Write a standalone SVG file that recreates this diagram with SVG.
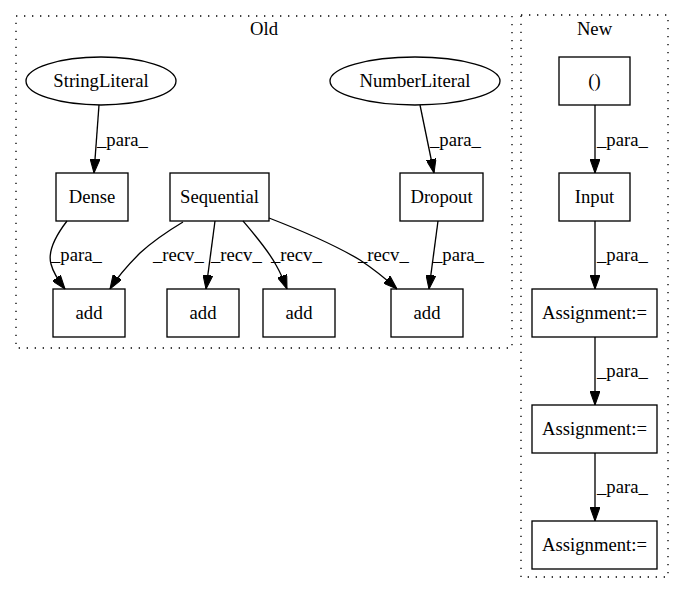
<svg xmlns="http://www.w3.org/2000/svg" width="684" height="596" viewBox="0 0 684 596">
<style>
text{font-family:"Liberation Serif","Times New Roman",serif;font-size:18.67px;fill:#000}
.c{text-anchor:middle}
.cl{fill:none;stroke:#000;stroke-width:1.33;stroke-dasharray:1.33,6.67}
.n{fill:none;stroke:#000;stroke-width:1.33}
.e{fill:none;stroke:#000;stroke-width:1.33;marker-end:url(#ah)}
</style>
<defs>
<marker id="ah" markerUnits="userSpaceOnUse" markerWidth="14" markerHeight="10" viewBox="0 0 13.3 9.4" refX="13.3" refY="4.7" orient="auto">
<path d="M0,0 L13.3,4.7 L0,9.4 z" fill="#000" stroke="#000" stroke-width="1"/>
</marker>
</defs>
<rect width="684" height="596" fill="#fff"/>
<g id="cluster_old">
<rect class="cl" x="16" y="16" width="496" height="332"/>
<text class="c" x="264" y="35">Old</text>
</g>
<g id="cluster_new">
<rect class="cl" x="521" y="15" width="147" height="562"/>
<text class="c" x="594.5" y="35">New</text>
</g>
<g id="StringLiteral"><ellipse class="n" cx="101" cy="81" rx="75" ry="24"/><text class="c" x="101" y="87">StringLiteral</text></g>
<g id="NumberLiteral"><ellipse class="n" cx="415" cy="81" rx="85" ry="24"/><text class="c" x="415" y="87">NumberLiteral</text></g>
<g id="Dense"><rect class="n" x="56" y="173" width="72" height="48"/><text class="c" x="92" y="203">Dense</text></g>
<g id="Sequential"><rect class="n" x="170" y="173" width="99" height="48"/><text class="c" x="219.5" y="203">Sequential</text></g>
<g id="Dropout"><rect class="n" x="400" y="173" width="83" height="48"/><text class="c" x="441.5" y="203">Dropout</text></g>
<g id="add1"><rect class="n" x="53" y="289" width="72" height="48"/><text class="c" x="89" y="319">add</text></g>
<g id="add2"><rect class="n" x="167" y="289" width="72" height="48"/><text class="c" x="203" y="319">add</text></g>
<g id="add3"><rect class="n" x="263" y="289" width="72" height="48"/><text class="c" x="299" y="319">add</text></g>
<g id="add4"><rect class="n" x="391" y="289" width="72" height="48"/><text class="c" x="427" y="319">add</text></g>
<g id="Tuple"><rect class="n" x="559" y="57" width="71" height="48"/><text class="c" x="594.5" y="87">()</text></g>
<g id="Input"><rect class="n" x="559" y="173" width="71" height="48"/><text class="c" x="594.5" y="203">Input</text></g>
<g id="Assign1"><rect class="n" x="532" y="289" width="125" height="48"/><text class="c" x="594.5" y="319">Assignment:=</text></g>
<g id="Assign2"><rect class="n" x="532" y="405" width="125" height="48"/><text class="c" x="594.5" y="435">Assignment:=</text></g>
<g id="Assign3"><rect class="n" x="532" y="521" width="125" height="48"/><text class="c" x="594.5" y="551">Assignment:=</text></g>
<g id="edges">
<path class="e" d="M99,105 L94,173"/>
<text x="97" y="146">_para_</text>
<path class="e" d="M420,105 L434,173"/>
<text x="430" y="146">_para_</text>
<path class="e" d="M67,221 C57,234 47,250 51,264 C53,272 58,280 65,289"/>
<text x="51" y="261">_para_</text>
<path class="e" d="M183,222 C168,231 152,242 140,253 C130,263 118,276 110,289"/>
<text x="153" y="261">_recv_</text>
<path class="e" d="M215,221 L206,289"/>
<text x="211" y="261">_recv_</text>
<path class="e" d="M243,221 C255,235 268,250 276,265 C280,272 284,281 287,289"/>
<text x="271" y="261">_recv_</text>
<path class="e" d="M269,218 C300,230 335,245 360,260 C372,268 386,279 397,289"/>
<text x="358" y="261">_recv_</text>
<path class="e" d="M438,221 L429,289"/>
<text x="433" y="261">_para_</text>
<path class="e" d="M595,105 L595,173"/>
<text x="597" y="146">_para_</text>
<path class="e" d="M595,221 L595,289"/>
<text x="597" y="261">_para_</text>
<path class="e" d="M595,337 L595,405"/>
<text x="597" y="377">_para_</text>
<path class="e" d="M595,453 L595,521"/>
<text x="597" y="493">_para_</text>
</g>
</svg>
